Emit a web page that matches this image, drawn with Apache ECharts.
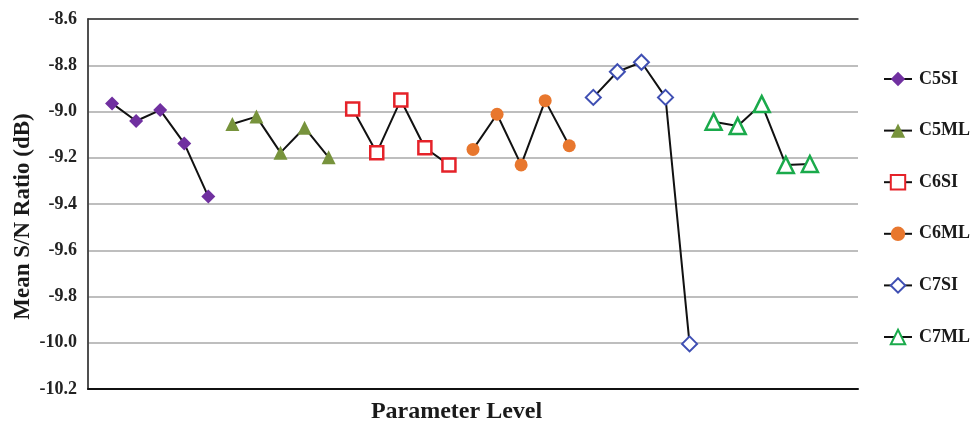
<!DOCTYPE html>
<html>
<head>
<meta charset="utf-8">
<script src="https://cdn.jsdelivr.net/npm/echarts@6/dist/echarts.min.js"></script>
<style>html,body{margin:0;padding:0;background:#fff;}#c{width:973px;height:423px;}</style>
</head>
<body>
<div id="c"></div>
<script>
var seriesNames = ['C5SI', 'C5ML', 'C6SI', 'C6ML', 'C7SI', 'C7ML'];
var levelPositions = [
  [1, 2, 3, 4, 5],
  [6, 7, 8, 9, 10],
  [11, 12, 13, 14, 15],
  [16, 17, 18, 19, 20],
  [21, 22, 23, 24, 25],
  [26, 27, 28, 29, 30]
];
var c5si = [-8.965, -9.041, -8.994, -9.138, -9.368];
var c5ml = [-9.054, -9.022, -9.178, -9.070, -9.198];
var c6si = [-8.989, -9.178, -8.950, -9.157, -9.231];
var c6ml = [-9.164, -9.012, -9.231, -8.953, -9.148];
var c7si = [-8.939, -8.828, -8.787, -8.939, -10.005];
var c7ml = [-9.044, -9.063, -8.968, -9.231, -9.227];
var yTicks = [-10.2, -10.0, -9.8, -9.6, -9.4, -9.2, -9.0, -8.8, -8.6];

var allValues = [c5si, c5ml, c6si, c6ml, c7si, c7ml];
var font = '"Liberation Serif", "Times New Roman", serif';
var styles = [
  {symbol: 'diamond', size: 14, itemStyle: {color: '#7030A0', borderWidth: 0}},
  {symbol: 'triangle', size: 14, itemStyle: {color: '#77933C', borderWidth: 0}},
  {symbol: 'rect', size: 13, itemStyle: {color: '#ffffff', borderColor: '#E52229', borderWidth: 2.5}},
  {symbol: 'circle', size: 13, itemStyle: {color: '#E8772E', borderWidth: 0}},
  {symbol: 'diamond', size: 15, itemStyle: {color: '#ffffff', borderColor: '#3F4FB3', borderWidth: 2}},
  {symbol: 'triangle', size: 16, itemStyle: {color: '#ffffff', borderColor: '#1AAA4B', borderWidth: 2.5}}
];

var series = seriesNames.map(function (name, i) {
  return {
    name: name,
    type: 'line',
    xAxisIndex: 0,
    yAxisIndex: 0,
    data: allValues[i].map(function (v, j) { return [levelPositions[i][j], v]; }),
    symbol: styles[i].symbol,
    symbolSize: styles[i].size,
    showAllSymbol: true,
    lineStyle: {color: '#111111', width: 2},
    itemStyle: styles[i].itemStyle,
    z: 3
  };
});

var chart = echarts.init(document.getElementById('c'), null, {renderer: 'canvas'});
chart.setOption({
  backgroundColor: '#ffffff',
  animation: false,
  grid: {left: 88, right: 115, top: 19, bottom: 34, containLabel: false, outerBoundsMode: 'none'},
  legend: {
    orient: 'vertical',
    left: 883,
    top: 70,
    padding: 0,
    itemWidth: 28,
    itemHeight: 18,
    itemGap: 33.6,
    data: seriesNames,
    textStyle: {fontFamily: font, fontWeight: 'bold', fontSize: 18, color: '#1a1a1a', lineHeight: 18, padding: [0, 0, 0, 2]}
  },
  xAxis: [{
    type: 'value', min: 0, max: 32,
    axisLine: {show: true, lineStyle: {color: '#111', width: 2}},
    axisTick: {show: false}, axisLabel: {show: false}, splitLine: {show: false},
    name: 'Parameter Level', nameLocation: 'middle', nameGap: 11, nameMoveOverlap: false,
    nameTextStyle: {fontFamily: font, fontWeight: 'bold', fontSize: 24, color: '#1a1a1a', padding: [0, 33, 0, 0], verticalAlign: 'top'}
  }, {
    type: 'value', min: 0, max: 32, position: 'top',
    axisLine: {show: true, lineStyle: {color: '#333', width: 1.5}},
    axisTick: {show: false}, axisLabel: {show: false}, splitLine: {show: false}
  }],
  yAxis: [{
    type: 'value', min: yTicks[0], max: yTicks[yTicks.length - 1], interval: 0.2,
    axisLine: {show: true, lineStyle: {color: '#8a8a8a', width: 1.5}},
    axisTick: {show: false},
    axisLabel: {fontFamily: font, fontWeight: 'bold', fontSize: 18, color: '#222', margin: 11,
      formatter: function (v) { return v.toFixed(1); }},
    splitLine: {show: true, lineStyle: {color: '#a8a8a8', width: 1.5}},
    name: 'Mean S/N Ratio (dB)', nameLocation: 'middle', nameGap: 53, nameMoveOverlap: false,
    nameTextStyle: {fontFamily: font, fontWeight: 'bold', fontSize: 23, color: '#1a1a1a', padding: [0, 25, 0, 0]}
  }, {
    type: 'value', min: yTicks[0], max: yTicks[yTicks.length - 1], interval: 0.2, position: 'right',
    axisLine: {show: true, lineStyle: {color: '#333', width: 1.5}},
    axisTick: {show: false}, axisLabel: {show: false}, splitLine: {show: false}
  }],
  series: series
});
</script>
</body>
</html>
